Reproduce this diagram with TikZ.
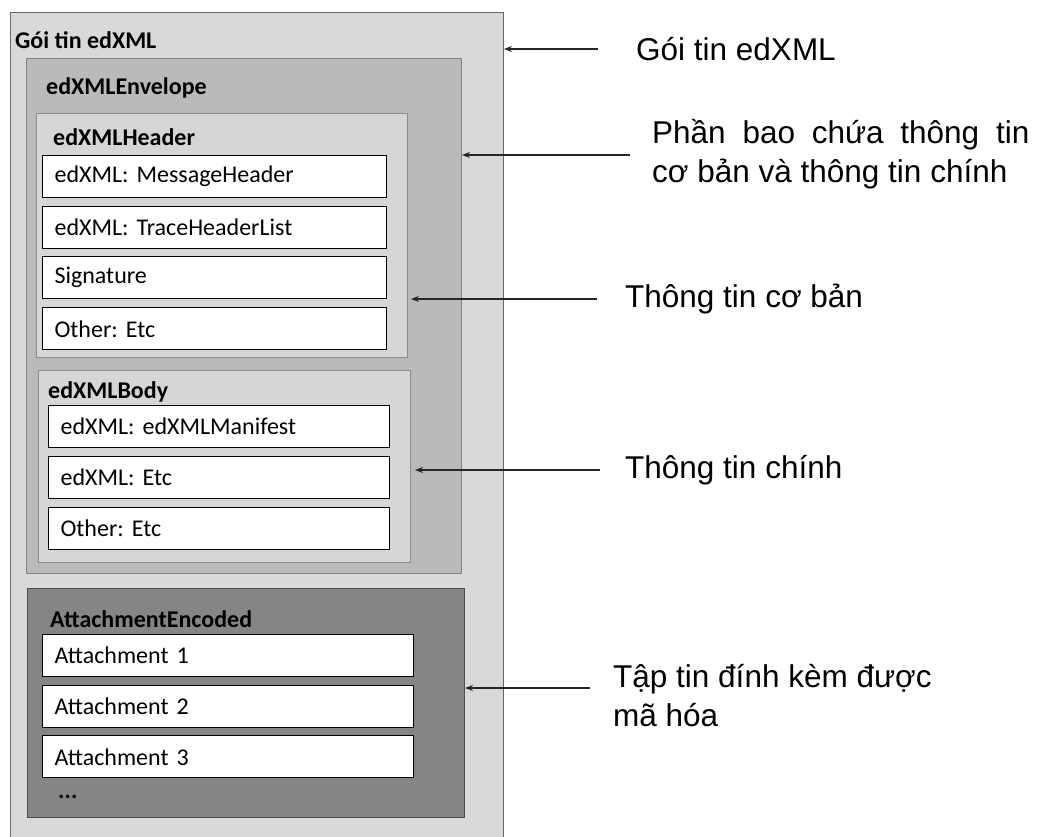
\documentclass[tikz,border=0pt]{standalone}
\usepackage{fontspec}
\usepackage{calc}
\usetikzlibrary{positioning,arrows.meta}
\setmainfont{Carlito}
\newfontfamily\notefont{Liberation Sans}
\frenchspacing

\begin{document}
\begin{tikzpicture}[x=1pt,y=-1pt]
\tikzstyle{frame}=[draw=black!60,line width=1pt,inner sep=0pt,anchor=north west]
\tikzstyle{title}=[font=\fontsize{24}{28}\selectfont\bfseries,inner sep=0pt,anchor=west]
\tikzstyle{field}=[draw=black,fill=white,line width=1.1pt,minimum height=42pt,inner xsep=12pt,inner ysep=0pt,align=left,font=\fontsize{24}{28}\selectfont]
\tikzstyle{note}=[font=\notefont\fontsize{31.5}{39}\selectfont,inner sep=0pt,anchor=west,align=left]
\tikzstyle{pointer}=[-{Stealth[length=8pt,width=6pt]},line width=1.2pt,black!85]

\useasboundingbox (0,0) rectangle (1046,837);
\clip (0,0) rectangle (1046,837);

% Frames
\node (pkg) [frame,fill=black!15,minimum width=493pt,minimum height=830pt] at (10,12) {};
\node (env) [frame,fill=black!27,draw=black!50,minimum width=435pt,minimum height=515pt] at (26,58) {};
\node (hdr) [frame,fill=black!16,draw=black!45,minimum width=371pt,minimum height=244pt] at (36,113) {};
\node (bdy) [frame,fill=black!16,draw=black!45,minimum width=372pt,minimum height=192pt] at (38,370) {};
\node (att) [frame,fill=black!48,draw=black!70,minimum width=437pt,minimum height=229pt] at (27,588) {};

% Frame titles
\node (tpkg) [title] at (15,40) {Gói tin edXML};
\node (tenv) [title] at (46,88) {edXMLEnvelope};
\node (thdr) [title] at (53,137) {edXMLHeader};
\node (tbdy) [title] at (48,392) {edXMLBody};
\node (tatt) [title] at (50,619) {AttachmentEncoded};
\node (tmore) [title] at (58,797) {...};

% Header fields
\node (hmsg) [field,text width=320pt,anchor=north west] at (42,155) {edXML: MessageHeader};
\node (htrace) [field,text width=320pt,below=8pt of hmsg] {edXML: TraceHeaderList};
\node (hsig) [field,text width=320pt,below=7pt of htrace] {Signature};
\node (hoth) [field,text width=320pt,below=8pt of hsig] {Other: Etc};

% Body fields
\node (bman) [field,text width=317pt,anchor=north west] at (48,405) {edXML: edXMLManifest};
\node (betc) [field,text width=317pt,below=8pt of bman] {edXML: Etc};
\node (both) [field,text width=317pt,below=8pt of betc] {Other: Etc};

% Attachments
\node (att1) [field,text width=347pt,anchor=north west] at (42,634) {Attachment 1};
\node (att2) [field,text width=347pt,below=8pt of att1] {Attachment 2};
\node (att3) [field,text width=347pt,below=7pt of att2] {Attachment 3};

% Notes on the right
\node (npkg) [note] at (636,49) {Gói tin edXML};
\node (nenv) [note] at (652,154) {\makebox[\widthof{cơ bản và thông tin chính}+22pt][s]{Phần bao chứa thông tin}\\cơ bản và thông tin chính};
\node (nhdr) [note] at (625,299) {Thông tin cơ bản};
\node (nbdy) [note] at (625,470) {Thông tin chính};
\node (natt) [note] at (613,696) {Tập tin đính kèm được\\mã hóa};

\coordinate (aenv) at (630,155);
\coordinate (aatt) at (590,688);

\draw[pointer] ([xshift=-38pt]npkg.west) -- (pkg.east |- npkg.west);
\draw[pointer] (aenv) -- (env.east |- aenv);
\draw[pointer] ([xshift=-28pt]nhdr.west) -- ([xshift=3pt]hdr.east |- nhdr.west);
\draw[pointer] ([xshift=-25pt]nbdy.west) -- ([xshift=4pt]bdy.east |- nbdy.west);
\draw[pointer] (aatt) -- (att.east |- aatt);

\end{tikzpicture}
\end{document}
